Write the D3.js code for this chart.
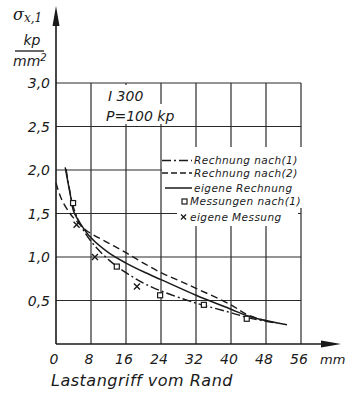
<!DOCTYPE html>
<html>
<head>
<meta charset="utf-8">
<script src="https://cdn.jsdelivr.net/npm/d3@7"></script>
<style>
  body { margin: 0; background: #fff; }
  svg text { font-family: "DejaVu Sans", sans-serif; font-style: italic; fill: #1a1a1a; }
</style>
</head>
<body>
<div id="chart"></div>
<script>
// Lastangriff vom Rand (mm) vs sigma x,1 (kp/mm2)
const xTicks = [0, 8, 16, 24, 32, 40, 48, 56];
const yTicks = [0.5, 1.0, 1.5, 2.0, 2.5, 3.0];

const rechnungNach1 = [[2.3, 2.01], [3, 1.8], [4, 1.57], [5.5, 1.38], [8, 1.18], [12, 0.97], [16, 0.82], [20, 0.7], [24, 0.61], [32, 0.47], [40, 0.36], [44, 0.3], [50.5, 0.24]];
const rechnungNach2 = [[0, 1.85], [1.3, 1.66], [3.2, 1.5], [4, 1.45], [6.6, 1.32], [8, 1.27], [12, 1.16], [16, 1.05], [20, 0.93], [24, 0.82], [28, 0.73], [32, 0.64], [40, 0.45], [44, 0.33], [49.5, 0.25]];
const eigeneRechnung = [[2.1, 2.03], [2.8, 1.84], [3.4, 1.68], [4, 1.53], [5.5, 1.39], [8, 1.22], [12, 1.05], [16, 0.93], [20, 0.83], [24, 0.74], [32, 0.56], [40, 0.4], [44, 0.32], [52.8, 0.22]];
const messungenNach1 = [[3.9, 1.62], [13.9, 0.89], [23.8, 0.56], [33.8, 0.45], [43.6, 0.29]];
const eigeneMessung = [[4.7, 1.37], [8.9, 1.0], [18.5, 0.66]];

const legendLabels = ["Rechnung nach(1)", "Rechnung nach(2)", "eigene Rechnung", "Messungen nach(1)", "eigene Messung"];

const width = 349, height = 397;
const ink = "#1a1a1a";

const svg = d3.select("#chart").append("svg")
  .attr("width", width)
  .attr("height", height);

const x = d3.scaleLinear().domain([0, 56]).range([56, 301]);
const y = d3.scaleLinear().domain([0, 3]).range([344, 83]);

// grid
const grid = svg.append("g").attr("class", "grid")
  .attr("stroke", "#2a2a2a").attr("stroke-width", 1.2);
grid.selectAll("line.h").data(yTicks).enter().append("line")
  .attr("x1", x(0)).attr("x2", x(56))
  .attr("y1", d => y(d)).attr("y2", d => y(d));
grid.selectAll("line.v").data(xTicks.slice(1)).enter().append("line")
  .attr("x1", d => x(d)).attr("x2", d => x(d))
  .attr("y1", y(0)).attr("y2", y(3));

// white patches behind annotation and legend
svg.append("rect").attr("x", 104).attr("y", 85).attr("width", 52).attr("height", 19).attr("fill", "#fff");
svg.append("rect").attr("x", 104).attr("y", 104).attr("width", 76).attr("height", 20).attr("fill", "#fff");
svg.append("rect").attr("x", 162).attr("y", 147).attr("width", 146).attr("height", 61).attr("fill", "#fff");
svg.append("rect").attr("x", 177).attr("y", 208).attr("width", 121).attr("height", 18).attr("fill", "#fff");

svg.append("text").attr("x", 108).attr("y", 101).style("font-size", "14px").text("I 300");
svg.append("text").attr("x", 106).attr("y", 121).style("font-size", "14px").text("P=100 kp");

// curves
const line = d3.line().x(d => x(d[0])).y(d => y(d[1])).curve(d3.curveCatmullRom);
const series = [
  { data: rechnungNach1, dash: "9,3,2,3", w: 1.4 },
  { data: rechnungNach2, dash: "7,4", w: 1.4 },
  { data: eigeneRechnung, dash: null, w: 1.5 }
];
svg.selectAll("path.curve").data(series).enter().append("path")
  .attr("class", "curve")
  .attr("d", d => line(d.data))
  .attr("fill", "none")
  .attr("stroke", ink)
  .attr("stroke-width", d => d.w)
  .attr("stroke-dasharray", d => d.dash);

// markers
svg.selectAll("rect.sq").data(messungenNach1).enter().append("rect")
  .attr("class", "sq")
  .attr("x", d => x(d[0]) - 2.5).attr("y", d => y(d[1]) - 2.5)
  .attr("width", 5).attr("height", 5)
  .attr("fill", "#fff").attr("stroke", ink).attr("stroke-width", 1.2);
svg.selectAll("path.cross").data(eigeneMessung).enter().append("path")
  .attr("class", "cross")
  .attr("d", d => {
    const cx = x(d[0]), cy = y(d[1]), r = 3;
    return `M${cx - r},${cy - r}L${cx + r},${cy + r}M${cx - r},${cy + r}L${cx + r},${cy - r}`;
  })
  .attr("stroke", ink).attr("stroke-width", 1.4);

// axes with arrows
svg.append("line").attr("x1", x(0)).attr("x2", x(0)).attr("y1", y(0)).attr("y2", 22)
  .attr("stroke", ink).attr("stroke-width", 1.6);
svg.append("path").attr("d", `M${x(0)},6L${x(0) + 3.5},26L${x(0) - 3.5},26Z`).attr("fill", ink);
svg.append("line").attr("x1", x(0)).attr("x2", 325).attr("y1", y(0)).attr("y2", y(0))
  .attr("stroke", ink).attr("stroke-width", 1.6);
svg.append("path").attr("d", `M341,${y(0)}L321,${y(0) - 3.5}L321,${y(0) + 3.5}Z`).attr("fill", ink);

// tick labels
svg.selectAll("text.ylab").data(yTicks).enter().append("text")
  .attr("class", "ylab")
  .attr("x", 50).attr("y", d => y(d)).attr("dy", "0.38em")
  .attr("text-anchor", "end")
  .style("font-size", "14px")
  .text(d => d3.format(".1f")(d).replace(".", ","));
svg.selectAll("text.xlab").data(xTicks).enter().append("text")
  .attr("class", "xlab")
  .attr("x", d => x(d) - 2).attr("y", 364)
  .attr("text-anchor", "middle")
  .style("font-size", "14px")
  .text(d => d);
svg.append("text").attr("x", 320).attr("y", 364).style("font-size", "13px").text("mm");
svg.append("text").attr("x", 51).attr("y", 386).style("font-size", "16px").style("letter-spacing", "0.5px")
  .text("Lastangriff vom Rand");

// y axis title
const yt = svg.append("text").attr("x", 13).attr("y", 20)
  .style("font-family", "'DejaVu Serif', serif").style("font-size", "16px");
yt.append("tspan").text("σ");
yt.append("tspan").attr("dy", 2).style("font-size", "12px").text("x,1");
svg.append("text").attr("x", 32).attr("y", 45).attr("text-anchor", "middle").style("font-size", "14px").text("kp");
svg.append("line").attr("x1", 15).attr("x2", 44).attr("y1", 51).attr("y2", 51).attr("stroke", ink).attr("stroke-width", 1.3);
const mm = svg.append("text").attr("x", 13).attr("y", 66).style("font-size", "14px");
mm.append("tspan").text("mm");
mm.append("tspan").attr("dy", -5).style("font-size", "10px").text("2");

// legend
const legendY = [160.5, 173, 188, 201.5, 217];
const lg = svg.append("g").attr("class", "legend");
lg.append("line").attr("x1", 162).attr("x2", 192).attr("y1", legendY[0]).attr("y2", legendY[0])
  .attr("stroke", ink).attr("stroke-width", 1.4).attr("stroke-dasharray", "9,3,2,3");
lg.append("line").attr("x1", 162).attr("x2", 192).attr("y1", legendY[1]).attr("y2", legendY[1])
  .attr("stroke", ink).attr("stroke-width", 1.4).attr("stroke-dasharray", "6,3");
lg.append("line").attr("x1", 165).attr("x2", 192).attr("y1", legendY[2]).attr("y2", legendY[2])
  .attr("stroke", ink).attr("stroke-width", 1.5);
lg.append("rect").attr("x", 182).attr("y", legendY[3] - 2.5).attr("width", 5).attr("height", 5)
  .attr("fill", "#fff").attr("stroke", ink).attr("stroke-width", 1.2);
lg.append("path").attr("d", `M181,${legendY[4] - 2.5}L186,${legendY[4] + 2.5}M181,${legendY[4] + 2.5}L186,${legendY[4] - 2.5}`)
  .attr("stroke", ink).attr("stroke-width", 1.3);
lg.selectAll("text").data(legendLabels).enter().append("text")
  .attr("x", (d, i) => i < 3 ? 194 : 190)
  .attr("y", (d, i) => legendY[i])
  .attr("dy", "0.36em")
  .style("font-size", "10.5px")
  .style("letter-spacing", "0.45px")
  .text(d => d);
</script>
</body>
</html>
